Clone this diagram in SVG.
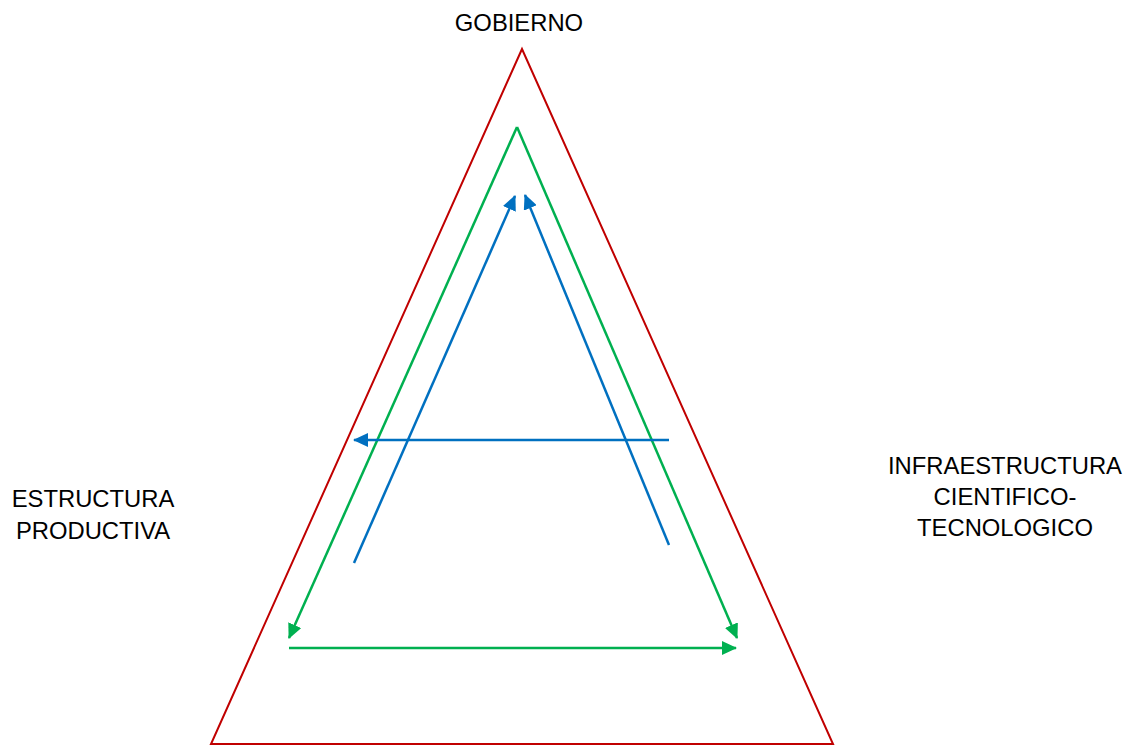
<svg xmlns="http://www.w3.org/2000/svg" width="1139" height="745" viewBox="0 0 1139 745">
  <style>
    .label { font-family: "Liberation Sans", Arial, sans-serif; font-size: 23.8px; fill: #000; text-anchor: middle; }
    .frame { fill: none; stroke: #C00000; stroke-width: 2; }
    .green { fill: none; stroke: #00B050; stroke-width: 2.5; }
    .blue { fill: none; stroke: #0070C0; stroke-width: 2.5; }
  </style>
  <defs>
    <marker id="arrow-green" markerUnits="userSpaceOnUse" markerWidth="16" markerHeight="14" refX="14" refY="7" orient="auto">
      <path d="M0,0 L15,7 L0,14 Z" fill="#00B050"/>
    </marker>
    <marker id="arrow-blue" markerUnits="userSpaceOnUse" markerWidth="16" markerHeight="14" refX="14" refY="7" orient="auto">
      <path d="M0,0 L15,7 L0,14 Z" fill="#0070C0"/>
    </marker>
  </defs>
  <rect width="1139" height="745" fill="#fff"/>

  <g id="triangle">
    <polygon class="frame" points="522,49 211,744 833,744"/>
  </g>

  <g id="gobierno">
    <text class="label" x="519" y="31">GOBIERNO</text>
  </g>
  <g id="estructura-productiva">
    <text class="label" x="93" y="507">ESTRUCTURA</text>
    <text class="label" x="93" y="539">PRODUCTIVA</text>
  </g>
  <g id="infraestructura">
    <text class="label" x="1005" y="474">INFRAESTRUCTURA</text>
    <text class="label" x="1005" y="505">CIENTIFICO-</text>
    <text class="label" x="1005" y="536">TECNOLOGICO</text>
  </g>

  <g id="connectors">
    <!-- green cycle: apex down to both corners, then across the base -->
    <line class="green" x1="517" y1="127" x2="289" y2="638" marker-end="url(#arrow-green)"/>
    <line class="green" x1="517" y1="127" x2="737" y2="638" marker-end="url(#arrow-green)"/>
    <line class="green" x1="289" y1="648" x2="736" y2="648" marker-end="url(#arrow-green)"/>
    <!-- blue flows -->
    <line class="blue" x1="354" y1="563" x2="515" y2="196" marker-end="url(#arrow-blue)"/>
    <line class="blue" x1="669" y1="545" x2="525" y2="195" marker-end="url(#arrow-blue)"/>
    <line class="blue" x1="669" y1="440" x2="354" y2="440" marker-end="url(#arrow-blue)"/>
  </g>
</svg>
